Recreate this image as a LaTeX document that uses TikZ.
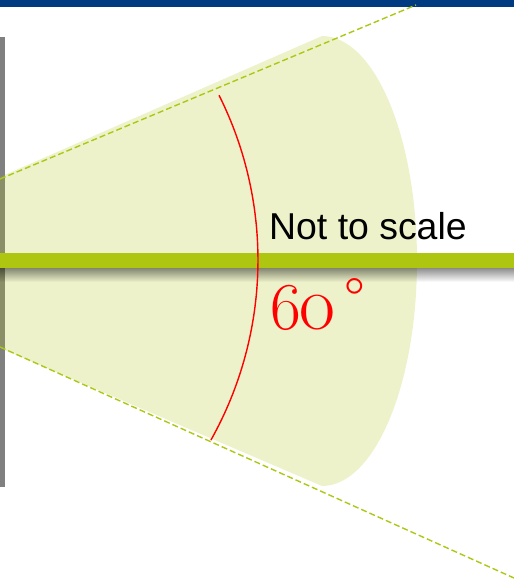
\documentclass[tikz,border=0pt]{standalone}
\usepackage{fontspec}
\newfontfamily\arialfont{Liberation Sans}
\usetikzlibrary{fadings}
\definecolor{topblue}{RGB}{0,58,128}
\definecolor{barlime}{RGB}{174,198,15}
\definecolor{dashlime}{RGB}{172,200,22}
\definecolor{wallgray}{RGB}{128,128,128}
\tikzfading[name=shadowfade, top color=transparent!55, bottom color=transparent!100]
\tikzset{
  rayline/.style={dashlime, line width=1.4pt, dash pattern=on 6pt off 3pt},
  conefill/.style={fill=barlime, fill opacity=0.22},
  arcline/.style={red, line width=1.4pt},
}
\begin{document}
\begin{tikzpicture}[x=1pt,y=1pt]
\useasboundingbox (0,0) rectangle (514,582);
% top blue band
\fill[topblue] (0,575) rectangle (514,582);
% gray wall
\fill[wallgray] (0,95) rectangle (5,545);
% cone
\fill[conefill] (0,405) -- (322,546) arc[start angle=90, end angle=-90, x radius=95, y radius=225] -- (0,234) -- cycle;
% rays
\coordinate (t0) at (0,403);
\coordinate (t1) at (416,577);
\coordinate (b0) at (0,235);
\coordinate (b1) at (514,4);
\draw[rayline] (t0) -- (t1);
\draw[rayline] (b0) -- (b1);
% shadow below axis bar
\fill[black, path fading=shadowfade] (0,300) rectangle (514,314);
% axis bar
\fill[barlime] (0,314) rectangle (514,329);
% angle arc
\coordinate (c) at (-110,322);
\draw[arcline] ([shift={(-29.3:368)}]c) arc[start angle=-29.3, end angle=26.6, radius=368];
% labels
\node[anchor=base west, inner sep=0pt, font=\arialfont\fontsize{37.4}{40}\selectfont] (nts) at (269,342) {Not to scale};
\node[anchor=base west, inner sep=0pt, red] (ang) at (270,252) {\fontsize{67}{70}\selectfont 6\kern-1pt\fontsize{78}{80}\selectfont o\kern9pt\raisebox{10pt}{\fontsize{60}{60}\selectfont\textdegree}};
\end{tikzpicture}
\end{document}
